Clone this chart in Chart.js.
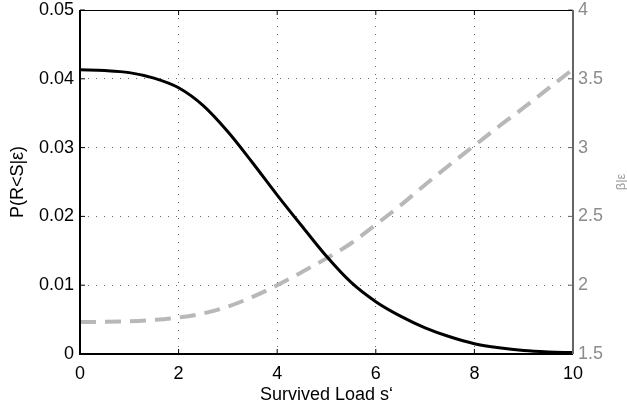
<!DOCTYPE html>
<html>
<head>
<meta charset="utf-8">
<script src="https://cdn.jsdelivr.net/npm/chart.js@4/dist/chart.umd.min.js"></script>
<style>
  html, body { margin: 0; padding: 0; background: #fff; }
  #wrap { width: 627px; height: 407px; }
</style>
</head>
<body>
<div id="wrap"><canvas id="myChart"></canvas></div>
<script>
// survived load s' (x axis)
const loads = [0, 0.5, 1, 1.5, 2, 2.5, 3, 3.5, 4, 4.5, 5, 5.5, 6, 6.5, 7, 7.5, 8, 8.5, 9, 9.5, 10];
// P(R<S|e), left axis
const probFail = [0.0413, 0.0412, 0.0409, 0.0401, 0.0387, 0.0361, 0.0323, 0.0278, 0.0231, 0.0186, 0.0142,
                  0.0104, 0.0076, 0.0055, 0.0038, 0.0025, 0.0015, 0.0009, 0.0005, 0.0003, 0.0002];
// beta|e, right axis
const beta = [1.733, 1.734, 1.738, 1.748, 1.765, 1.795, 1.845, 1.915, 2.000, 2.095, 2.195,
              2.305, 2.440, 2.580, 2.730, 2.875, 3.015, 3.155, 3.290, 3.430, 3.570];

const xTicks = [0, 2, 4, 6, 8, 10];
const leftTicks = [0, 0.01, 0.02, 0.03, 0.04, 0.05];
const rightTicks = [1.5, 2, 2.5, 3, 3.5, 4];

const FONT = "'Liberation Sans', Arial, Helvetica, sans-serif";
const GRID = 'rgba(0,0,0,0.6)';

// frame, inward ticks and the rotated right title (MATLAB look)
const framePlugin = {
  id: 'frame',
  afterDraw(chart) {
    const { ctx, chartArea: a, scales } = chart;
    ctx.save();
    ctx.lineCap = 'butt';
    // inner ticks
    ctx.lineWidth = 1;
    ctx.strokeStyle = '#000';
    xTicks.forEach(v => {
      const px = scales.x.getPixelForValue(v);
      ctx.beginPath();
      ctx.moveTo(px, a.bottom); ctx.lineTo(px, a.bottom - 5);
      ctx.moveTo(px, a.top); ctx.lineTo(px, a.top + 5);
      ctx.stroke();
    });
    leftTicks.forEach(v => {
      const py = scales.y.getPixelForValue(v);
      ctx.beginPath();
      ctx.moveTo(a.left, py); ctx.lineTo(a.left + 5, py);
      ctx.stroke();
    });
    ctx.strokeStyle = '#666';
    rightTicks.forEach(v => {
      const py = scales.y1.getPixelForValue(v);
      ctx.beginPath();
      ctx.moveTo(a.right, py); ctx.lineTo(a.right - 5, py);
      ctx.stroke();
    });
    // frame
    ctx.strokeStyle = '#000';
    ctx.lineWidth = 1;
    ctx.beginPath();
    ctx.moveTo(a.left, a.top + 0.5); ctx.lineTo(a.right, a.top + 0.5);
    ctx.stroke();
    ctx.lineWidth = 2;
    ctx.beginPath();
    ctx.moveTo(a.left, a.top); ctx.lineTo(a.left, a.bottom); ctx.lineTo(a.right, a.bottom);
    ctx.stroke();
    ctx.strokeStyle = '#666';
    ctx.beginPath();
    ctx.moveTo(a.right, a.top); ctx.lineTo(a.right, a.bottom);
    ctx.stroke();
    // right axis title
    ctx.translate(621, (a.top + a.bottom) / 2);
    ctx.rotate(-Math.PI / 2);
    ctx.fillStyle = '#999';
    ctx.font = '13px ' + FONT;
    ctx.textAlign = 'center';
    ctx.textBaseline = 'middle';
    ctx.fillText('β|ε', 0, 0);
    ctx.restore();
  }
};

const ctx = document.getElementById('myChart').getContext('2d');

const myChart = new Chart(ctx, {
  type: 'line',
  data: {
    datasets: [
      {
        label: 'P(R<S|ε)',
        data: loads.map((x, i) => ({ x: x, y: probFail[i] })),
        borderColor: '#000',
        borderWidth: 3,
        pointRadius: 0,
        cubicInterpolationMode: 'monotone',
        yAxisID: 'y'
      },
      {
        label: 'β|ε',
        data: loads.map((x, i) => ({ x: x, y: beta[i] })),
        borderColor: '#b8b8b8',
        borderWidth: 4,
        borderDash: [16, 9],
        pointRadius: 0,
        cubicInterpolationMode: 'monotone',
        yAxisID: 'y1'
      }
    ]
  },
  options: {
    responsive: true,
    maintainAspectRatio: false,
    animation: false,
    events: [],
    layout: { padding: { top: 10, left: 0, right: 0, bottom: 0 } },
    plugins: {
      legend: { display: false },
      tooltip: { enabled: false }
    },
    scales: {
      x: {
        type: 'linear',
        min: 0,
        max: 10,
        afterBuildTicks: s => { s.ticks = xTicks.map(v => ({ value: v })); },
        afterFit: s => { s.height = 53; s.paddingLeft = 0; s.paddingRight = 0; },
        grid: {
          color: c => (c.tick && (c.tick.value === 0 || c.tick.value === 10)) ? 'transparent' : GRID,
          lineWidth: 1,
          drawTicks: false
        },
        border: { display: false, dash: [1, 7] },
        ticks: { color: '#000', padding: 9, font: { family: FONT, size: 18 }, maxRotation: 0 },
        title: {
          display: true,
          text: 'Survived Load s‘',
          color: '#000',
          font: { family: FONT, size: 18 },
          padding: { top: 0, bottom: 1 }
        }
      },
      y: {
        position: 'left',
        min: 0,
        max: 0.05,
        afterBuildTicks: s => { s.ticks = leftTicks.map(v => ({ value: v })); },
        afterFit: s => { s.width = 80; s.paddingTop = 0; s.paddingBottom = 0; },
        grid: {
          color: c => (c.tick && (c.tick.value === 0 || c.tick.value === 0.05)) ? 'transparent' : GRID,
          lineWidth: 1,
          drawTicks: false
        },
        border: { display: false, dash: [1, 7] },
        ticks: {
          color: '#000',
          padding: 6,
          font: { family: FONT, size: 18 },
          callback: v => v === 0 ? '0' : v.toFixed(2)
        },
        title: {
          display: true,
          text: 'P(R<S|ε)',
          color: '#000',
          font: { family: FONT, size: 18 },
          padding: { top: 7, bottom: 0 }
        }
      },
      y1: {
        position: 'right',
        min: 1.5,
        max: 4,
        afterBuildTicks: s => { s.ticks = rightTicks.map(v => ({ value: v })); },
        afterFit: s => { s.width = 54; s.paddingTop = 0; s.paddingBottom = 0; },
        grid: { display: false, drawTicks: false },
        border: { display: false },
        ticks: {
          color: '#8c8c8c',
          padding: 5,
          font: { family: FONT, size: 18 },
          callback: v => String(+v.toFixed(1))
        }
      }
    }
  },
  plugins: [framePlugin]
});
</script>
</body>
</html>
